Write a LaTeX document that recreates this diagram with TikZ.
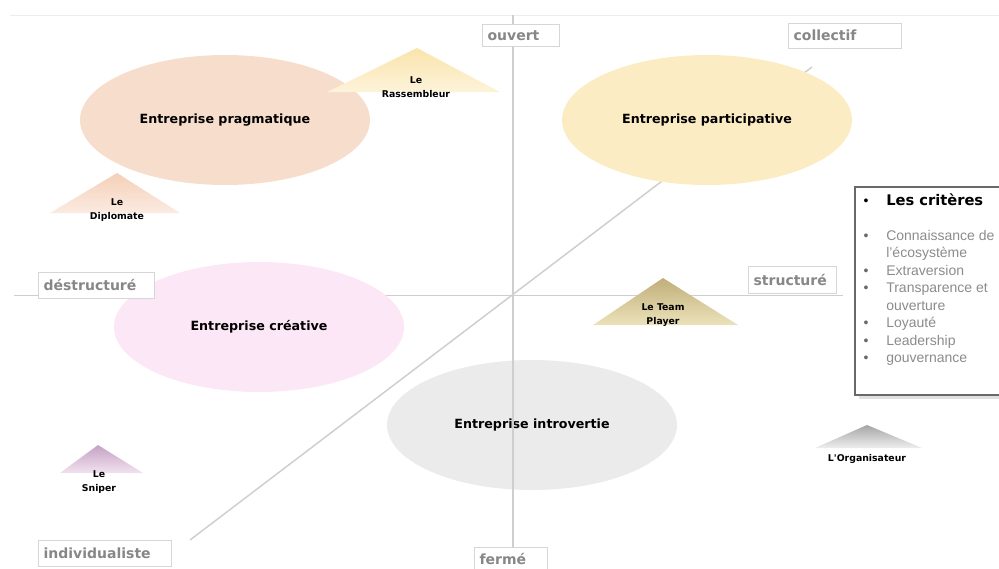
\documentclass[tikz,border=0pt]{standalone}
\usepackage{fontspec}
\setmainfont{Liberation Sans}
\newfontfamily\heavyfont{DejaVu Sans}
\usetikzlibrary{shapes.geometric}

\definecolor{axisgray}{RGB}{206,206,206}
\definecolor{boxgray}{RGB}{214,214,214}
\definecolor{labelgray}{RGB}{135,135,135}
\definecolor{critgray}{RGB}{140,140,140}
\definecolor{framegray}{RGB}{105,105,105}
\definecolor{pragmacol}{RGB}{247,221,204}
\definecolor{particol}{RGB}{252,236,196}
\definecolor{creacol}{RGB}{252,231,246}
\definecolor{introcol}{RGB}{235,235,235}

\tikzset{
  quadrant/.style={ellipse, minimum width=217.5pt, minimum height=97.5pt, inner sep=0pt,
    font=\heavyfont\bfseries\fontsize{9.5}{11}\selectfont},
  axislabel/.style={draw=boxgray, fill=white, text=labelgray, anchor=north west,
    inner xsep=4pt, inner ysep=0pt, align=left,
    font=\heavyfont\bfseries\fontsize{10.5}{12}\selectfont},
  rolelabel/.style={align=center, inner sep=0pt,
    font=\heavyfont\bfseries\fontsize{7}{10.5}\selectfont},
  critline/.style={anchor=base west, inner sep=0pt, text=critgray,
    font=\fontsize{10.5}{12}\selectfont},
  axisline/.style={draw=axisgray, line width=1.1pt}
}

\begin{document}
\begin{tikzpicture}[x=0.75pt,y=0.75pt,yscale=-1,xscale=1]
\useasboundingbox (0,0) rectangle (999,568);
\clip (0,0) rectangle (999,568);

%Top rule
\draw [draw=black!7, line width=0.8pt] (10,15.5) -- (999,15.5);

%Shape: Ellipse introvertie (under the vertical axis)
\node [quadrant, fill=introcol] (introvertie) at (532,425) {Entreprise introvertie};

%Axes
\coordinate (north) at (513,15);
\coordinate (south) at (513,568);
\coordinate (west) at (14,295.5);
\coordinate (east) at (843,295.5);
\coordinate (indiv) at (190,540);
\coordinate (collec) at (812,67);
\draw [axisline] (north) -- (south);
\draw [axisline] (west) -- (east);
\draw [axisline] (indiv) -- (collec);

%Shape: Ellipses
\node [quadrant, fill=pragmacol] (pragmatique) at (225,120) {Entreprise pragmatique};
\node [quadrant, fill=particol] (participative) at (707,120) {Entreprise participative};
\node [quadrant, fill=creacol] (creative) at (259,327) {Entreprise créative};

%Shape: Triangles
\shade [top color={rgb,255:red,250;green,228;blue,172}, bottom color={rgb,255:red,253;green,243;blue,218}] (417,48) -- (500,92) -- (327,92) -- cycle;
\shade [top color={rgb,255:red,244;green,208;blue,184}, bottom color={rgb,255:red,251;green,235;blue,225}] (117,173) -- (180,213) -- (50,213) -- cycle;
\shade [top color={rgb,255:red,192;green,174;blue,122}, bottom color={rgb,255:red,236;green,226;blue,186}] (663,278) -- (738,325) -- (593,325) -- cycle;
\shade [top color={rgb,255:red,196;green,162;blue,196}, bottom color={rgb,255:red,242;green,226;blue,240}] (98,445) -- (143,473) -- (60,473) -- cycle;
\shade [top color={rgb,255:red,165;green,165;blue,165}, bottom color={rgb,255:red,238;green,238;blue,238}] (867,425) -- (922,448) -- (815,448) -- cycle;

% Text Node
\node [rolelabel] (rassembleur) at (416,87) {Le\\Rassembleur};
% Text Node
\node [rolelabel] (diplomate) at (117,210) {Le\\Diplomate};
% Text Node
\node [rolelabel] (teamplayer) at (663,315) {Le Team\\Player};
% Text Node
\node [rolelabel] (sniper) at (99,482) {Le\\Sniper};
% Text Node
\node [rolelabel] (organisateur) at (867,459) {L'Organisateur};

%Axis labels
\node [axislabel, text width=50pt, minimum height=16.5pt] (ouvert) at (482,24) {ouvert};
\node [axislabel, text width=77pt, minimum height=18.75pt] (collectif) at (788,23) {collectif};
\node [axislabel, text width=79pt, minimum height=19.5pt] (destructure) at (38,272) {déstructuré};
\node [axislabel, text width=58pt, minimum height=20pt] (structure) at (748,266) {structuré};
\node [axislabel, text width=92pt, minimum height=19.5pt] (individualiste) at (38,540) {individualiste};
\node [axislabel, text width=47pt, minimum height=18pt] (ferme) at (474,547) {fermé};

%Shape: Criteria box
\fill [black!12] (859,191) rectangle (1012,399);
\draw [draw=framegray, fill=white, line width=0.9pt] (855,187) rectangle (1010,395);

% Text Node
\node [anchor=base, inner sep=0pt, font=\fontsize{10.5}{12}\selectfont] (critbullet) at (866,205) {•};
\node [anchor=base west, inner sep=0pt, font=\heavyfont\bfseries\fontsize{11}{13}\selectfont] (criteres) at (886,205) {Les critères};

\foreach \txt [count=\i] in {Connaissance de, l'écosystème, Extraversion, Transparence et, ouverture, Loyauté, Leadership, gouvernance}
  \node [critline] (crit-\i) at (886,{240+(\i-1)*17.5}) {\txt};
\foreach \i in {1,3,4,6,7,8}
  \node [critline, anchor=base, text=framegray] (bullet-\i) at (866,{240+(\i-1)*17.5}) {•};

\end{tikzpicture}
\end{document}
